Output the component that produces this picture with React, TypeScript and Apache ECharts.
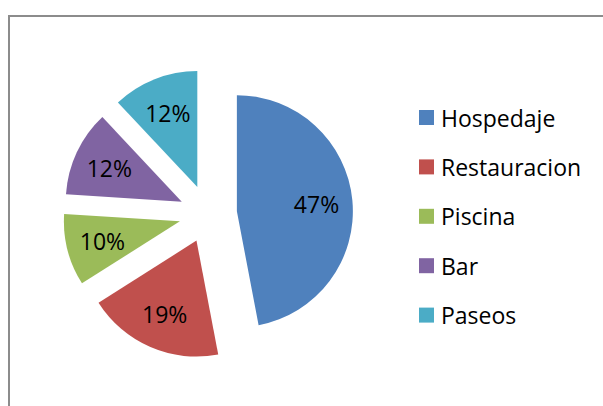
import React, { useEffect, useRef } from "react";
import * as echarts from "echarts";

const categories = ["Hospedaje", "Restauracion", "Piscina", "Bar", "Paseos"];
const values = [47, 19, 10, 12, 12];
const colors = ["#4F81BD", "#C0504D", "#9BBB59", "#8064A2", "#4BACC6"];

const FONT = "'Open Sans', 'Noto Sans', sans-serif";

export default function App() {
  const ref = useRef<HTMLDivElement>(null);
  useEffect(() => {
    if (!ref.current) return;
    const chart = echarts.init(ref.current, undefined, { renderer: "svg" });
    const center = [208, 214];
    const slices = categories.map((name, i) => ({
      name,
      value: values[i],
      selected: true,
      itemStyle: { color: colors[i] },
    }));
    const labelSlices = categories.map((name, i) => ({
      name,
      value: values[i],
      selected: true,
      itemStyle: { color: "rgba(0,0,0,0)" },
    }));
    chart.setOption({
      animation: false,
      color: colors,
      graphic: [
        {
          type: "rect",
          z: -1,
          shape: { x: 9, y: 16, width: 700, height: 500 },
          style: { fill: "none", stroke: "#8c8c8c", lineWidth: 2 },
          silent: true,
        },
      ],
      legend: {
        orient: "vertical",
        left: 419,
        top: 106,
        padding: 0,
        itemWidth: 15,
        itemHeight: 15,
        itemGap: 26.4,
        icon: "rect",
        data: categories,
        selectedMode: false,
        textStyle: {
          fontFamily: FONT,
          fontSize: 23,
          lineHeight: 22,
          color: "#000",
          padding: [0, 0, 0, 2],
        },
      },
      series: [
        {
          type: "pie",
          center,
          radius: [0, 116],
          startAngle: 90,
          clockwise: true,
          selectedMode: "multiple",
          selectedOffset: 29,
          label: { show: false },
          labelLine: { show: false },
          emphasis: { disabled: true },
          silent: true,
          data: slices,
        },
        {
          type: "pie",
          center,
          radius: [38, 116],
          startAngle: 90,
          clockwise: true,
          selectedMode: "multiple",
          selectedOffset: 29,
          legendHoverLink: false,
          label: {
            show: true,
            position: "inside",
            formatter: "{c}%",
            fontFamily: FONT,
            fontSize: 23,
            color: "#000",
          },
          labelLine: { show: false },
          emphasis: { disabled: true },
          select: { itemStyle: { color: "rgba(0,0,0,0)" } },
          silent: true,
          data: labelSlices,
        },
      ],
    });
    return () => chart.dispose();
  }, []);
  return (
    <div
      ref={ref}
      style={{ position: "absolute", left: 0, top: 0, width: 603, height: 406, background: "#fff" }}
    />
  );
}
